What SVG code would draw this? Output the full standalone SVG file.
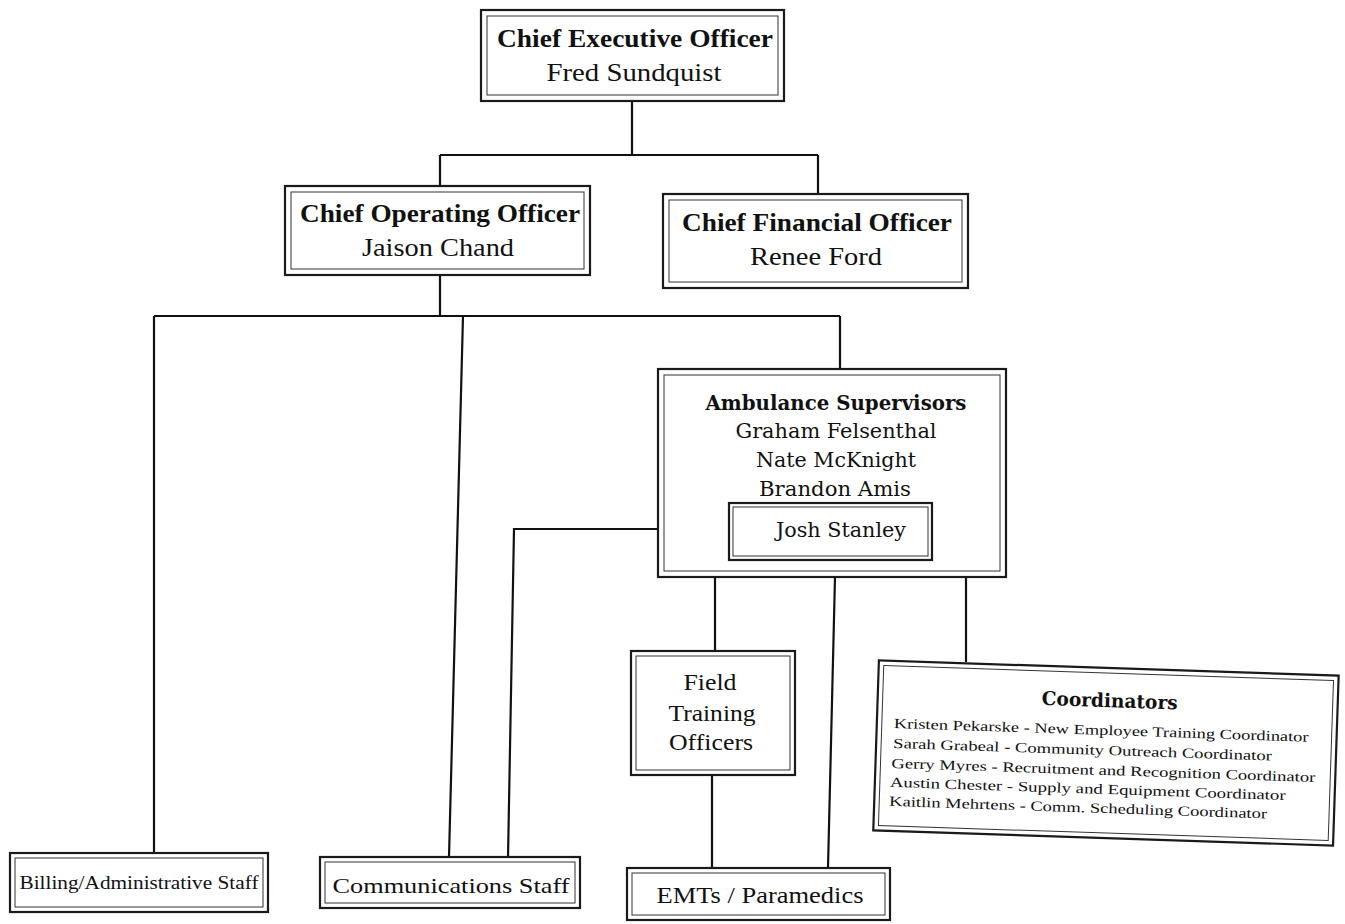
<svg xmlns="http://www.w3.org/2000/svg" width="1345" height="924" viewBox="0 0 1345 924">
<style>
.o{fill:#fff;stroke:#1a1a1a;stroke-width:2.2}
.i{fill:none;stroke:#333;stroke-width:1}
.c{fill:none;stroke:#111;stroke-width:2.2}
text{font-family:"Liberation Serif","Times New Roman",serif;fill:#111;text-anchor:middle}
.b{font-weight:bold}
.w{font-family:"DejaVu Serif","Liberation Serif",serif}
</style>
<rect width="1345" height="924" fill="#fff"/>
<g id="connectors">
<path class="c" d="M632 101V155M440 155H818M440 155V186M818 155V194"/>
<path class="c" d="M440 275V316M154 316H840M154 316V853M463 316L449 857M840 316V369"/>
<path class="c" d="M729 529H514L508 858"/>
<path class="c" d="M715 577V651M835 577L828 868M966 577V662M712 775V868"/>
</g>
<g id="ceo">
<rect class="o" x="481" y="10" width="303" height="91"/>
<rect class="i" x="487" y="16" width="291" height="79"/>
<text class="b" x="635" y="47" font-size="26" textLength="276" lengthAdjust="spacingAndGlyphs">Chief Executive Officer</text>
<text x="634" y="81" font-size="26" textLength="175" lengthAdjust="spacingAndGlyphs">Fred Sundquist</text>
</g>
<g id="coo">
<rect class="o" x="285" y="186" width="305" height="89"/>
<rect class="i" x="291" y="192" width="293" height="77"/>
<text class="b" x="440" y="222" font-size="26" textLength="280" lengthAdjust="spacingAndGlyphs">Chief Operating Officer</text>
<text x="438" y="256" font-size="26" textLength="152" lengthAdjust="spacingAndGlyphs">Jaison Chand</text>
</g>
<g id="cfo">
<rect class="o" x="663" y="194" width="305" height="94"/>
<rect class="i" x="669" y="200" width="293" height="82"/>
<text class="b" x="817" y="231" font-size="26" textLength="270" lengthAdjust="spacingAndGlyphs">Chief Financial Officer</text>
<text x="816" y="265" font-size="26" textLength="132" lengthAdjust="spacingAndGlyphs">Renee Ford</text>
</g>
<g id="ambulance">
<rect class="o" x="658" y="369" width="348" height="208"/>
<rect class="i" x="664" y="375" width="336" height="196"/>
<text class="b w" x="836" y="410" font-size="20" textLength="261" lengthAdjust="spacingAndGlyphs">Ambulance Supervisors</text>
<text class="w" x="836" y="438" font-size="20" textLength="201" lengthAdjust="spacingAndGlyphs">Graham Felsenthal</text>
<text class="w" x="836" y="467" font-size="20" textLength="160" lengthAdjust="spacingAndGlyphs">Nate McKnight</text>
<text class="w" x="835" y="496" font-size="20" textLength="152" lengthAdjust="spacingAndGlyphs">Brandon Amis</text>
</g>
<g id="josh">
<rect class="o" x="729" y="503" width="203" height="57"/>
<rect class="i" x="733" y="507" width="195" height="49"/>
<text class="w" x="841" y="537" font-size="20" textLength="130" lengthAdjust="spacingAndGlyphs">Josh Stanley</text>
</g>
<g id="fto">
<rect class="o" x="631" y="651" width="164" height="124"/>
<rect class="i" x="636" y="656" width="154" height="114"/>
<text x="710" y="690" font-size="24" textLength="53" lengthAdjust="spacingAndGlyphs">Field</text>
<text x="712" y="721" font-size="24" textLength="87" lengthAdjust="spacingAndGlyphs">Training</text>
<text x="711" y="750" font-size="24" textLength="84" lengthAdjust="spacingAndGlyphs">Officers</text>
</g>
<g id="coordinators" transform="rotate(1.9 1106 752)">
<rect class="o" x="876" y="668" width="460" height="170"/>
<rect class="i" x="881" y="673" width="450" height="160"/>
<text class="b w" x="1108" y="707" font-size="19" textLength="136" lengthAdjust="spacingAndGlyphs">Coordinators</text>
<g font-size="14" class="w">
<text x="893" y="735" textLength="415" lengthAdjust="spacingAndGlyphs" style="text-anchor:start">Kristen Pekarske - New Employee Training Coordinator</text>
<text x="893" y="755" textLength="379" lengthAdjust="spacingAndGlyphs" style="text-anchor:start">Sarah Grabeal - Community Outreach Coordinator</text>
<text x="892" y="775" textLength="424" lengthAdjust="spacingAndGlyphs" style="text-anchor:start">Gerry Myres - Recruitment and Recognition Coordinator</text>
<text x="891" y="794" textLength="396" lengthAdjust="spacingAndGlyphs" style="text-anchor:start">Austin Chester - Supply and Equipment  Coordinator</text>
<text x="891" y="813" textLength="378" lengthAdjust="spacingAndGlyphs" style="text-anchor:start">Kaitlin Mehrtens - Comm. Scheduling Coordinator</text>
</g>
</g>
<g id="billing">
<rect class="o" x="10" y="853" width="258" height="59"/>
<rect class="i" x="15" y="858" width="248" height="49"/>
<text x="139" y="889" font-size="19" textLength="239" lengthAdjust="spacingAndGlyphs">Billing/Administrative Staff</text>
</g>
<g id="communications">
<rect class="o" x="320" y="857" width="260" height="51"/>
<rect class="i" x="325" y="862" width="250" height="41"/>
<text x="451" y="893" font-size="22" textLength="237" lengthAdjust="spacingAndGlyphs">Communications Staff</text>
</g>
<g id="emts">
<rect class="o" x="627" y="868" width="263" height="52"/>
<rect class="i" x="632" y="873" width="253" height="42"/>
<text x="760" y="903" font-size="23" textLength="207" lengthAdjust="spacingAndGlyphs">EMTs / Paramedics</text>
</g>
</svg>
